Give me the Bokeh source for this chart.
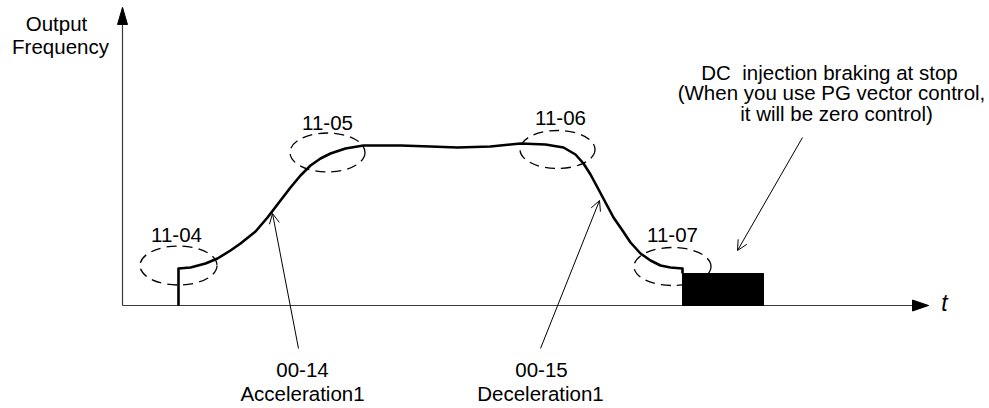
from bokeh.plotting import figure
from bokeh.models import ColumnDataSource, Range1d, Arrow, OpenHead
from bokeh.core.properties import value
from bokeh.embed import file_html
from bokeh.resources import INLINE

# ---- data (time on x, output frequency on y; origin at the axes' corner) ----
curve_t = [56, 56, 68, 83, 95, 108, 118, 133, 145, 158, 168, 178, 188, 198, 208, 223,
           241, 278, 308, 335, 368, 398, 423, 441, 453, 461, 468, 475, 483, 491, 500,
           508, 518, 528, 538, 548, 560, 560]
curve_f = [0, 37, 38, 42, 47, 55, 62, 74, 88, 105, 118, 130, 140, 147, 152, 157,
           160, 160, 159, 158, 159, 162, 161, 158, 151, 142, 131, 118, 103, 88, 75,
           63, 52, 45, 40, 38, 37, 32]

# DC injection braking block
dc_t0 = [560]
dc_t1 = [641]
dc_f0 = [0]
dc_f1 = [32]

# S-curve parameter regions (dashed ellipses) and their labels
sc_labels = ["11-04", "11-05", "11-06", "11-07"]
sc_t = [56, 205, 435, 550]
sc_f = [40, 153, 156, 39]
sc_w = [77, 75, 75, 77]
sc_h = [39, 39, 38, 38]
sc_label_t = [54, 205, 438, 550]
sc_label_f = [71, 183, 188, 71]

# Pointer annotations
ann_t0 = [176, 418, 680]
ann_f0 = [-43, -43, 168]
ann_t1 = [150, 477, 615]
ann_f1 = [92, 105, 55]

# Other text
text_labels = ["Output", "Frequency", "00-14", "Acceleration1", "00-15", "Deceleration1",
               "DC\u00a0 injection braking at stop", "(When you use PG vector control,",
               "it will be zero control)"]
text_t = [-66, -62, 180, 180, 419, 418, 707, 709, 714]
text_f = [282, 259, -64, -88, -64, -88, 233, 213, 192]

# Axes extents
axis_t_max = 806
axis_f_max = 298

FONT = value("Liberation Sans")
FS = value("20.5px")

p = figure(width=989, height=408, output_backend="svg", toolbar_location=None,
           x_range=Range1d(-122, 867), y_range=Range1d(-103, 305),
           x_axis_type=None, y_axis_type=None, min_border=0)
p.outline_line_color = None
p.grid.visible = False
p.background_fill_color = "white"

# axes lines
p.segment(x0=[0, 0], y0=[0, 0], x1=[axis_t_max, 0], y1=[0, axis_f_max],
          line_color="#3a3a3a", line_width=1.2)
# axes arrowheads (head length / half-width are style constants)
hl_x, hw_x = 16, 5.5
hl_y, hw_y = 17, 5
p.patches(xs=[[axis_t_max, axis_t_max - hl_x, axis_t_max - hl_x],
              [0, -hw_y, hw_y]],
          ys=[[0, hw_x, -hw_x],
              [axis_f_max, axis_f_max - hl_y, axis_f_max - hl_y]],
          fill_color="black", line_color="black", line_width=1)

# output frequency curve
p.line(curve_t, curve_f, line_color="black", line_width=2.6, line_join="round")

# DC braking block
p.quad(left=dc_t0, right=dc_t1, bottom=dc_f0, top=dc_f1,
       fill_color="black", line_color="black")

# dashed ellipses
p.ellipse(x=sc_t, y=sc_f, width=sc_w, height=sc_h, fill_color=None,
          line_color="black", line_width=1.3, line_dash="10 6")

# pointer arrows
arr_src = ColumnDataSource(dict(x0=ann_t0, y0=ann_f0, x1=ann_t1, y1=ann_f1))
p.add_layout(Arrow(end=OpenHead(size=10, line_width=1, line_color="black"),
                   x_start="x0", y_start="y0", x_end="x1", y_end="y1",
                   source=arr_src, line_color="black", line_width=1))

# labels
p.text(x=sc_label_t, y=sc_label_f, text=sc_labels, text_align="center",
       text_baseline="alphabetic", text_font=FONT, text_font_size=FS, text_color="black")
p.text(x=text_t, y=text_f, text=text_labels, text_align="center",
       text_baseline="alphabetic", text_font=FONT, text_font_size=FS, text_color="black")
p.text(x=[822], y=[3], text=["t"], text_align="center", text_baseline="alphabetic",
       text_font=FONT, text_font_size=value("23px"), text_font_style="italic",
       text_color="black")

open("out.html", "w").write(file_html(p, INLINE))
